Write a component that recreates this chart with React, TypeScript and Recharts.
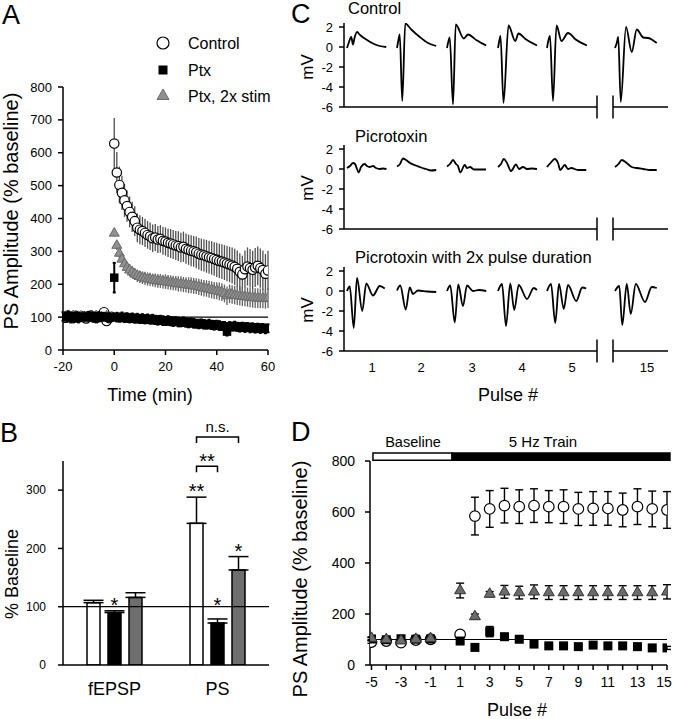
import React from 'react';
import {
  ScatterChart, Scatter, LineChart, Line, BarChart, Bar, XAxis, YAxis,
  ErrorBar, ReferenceLine, ReferenceArea, LabelList,
} from 'recharts';

const FONT = '"Liberation Sans", Arial, Helvetica, sans-serif';
const AXIS = { stroke: '#000', strokeWidth: 1.5 };

// ---------- Panel A: PS amplitude vs time ----------
const timeA = [-20,-19,-18,-17,-16,-15,-14,-13,-12,-11,-10,-9,-8,-7,-6,-5,-4,-3,-2,-1,0,1,2,3,4,5,6,7,8,9,10,11,12,13,14,15,16,17,18,19,20,21,22,23,24,25,26,27,28,29,30,31,32,33,34,35,36,37,38,39,40,41,42,43,44,45,46,47,48,49,50,51,52,53,54,55,56,57,58,59,60];
const controlA = [100,98,103,101,97,104,99,102,100,96,103,101,99,98,102,104,115,88,97,101,
  628,540,502,478,455,438,420,405,392,372,366,362,356,350,346,340,342,336,338,332,330,326,324,321,318,316,312,314,308,305,302,300,297,293,290,288,285,282,280,277,274,271,269,266,263,260,257,253,247,238,230,246,254,249,244,251,256,249,243,232,242];
const controlAErr = [6,5,7,6,5,6,7,5,6,6,5,7,6,5,6,7,8,7,6,5,
  78,62,56,52,50,48,47,46,45,44,44,43,43,42,42,42,41,41,42,42,43,43,44,44,44,45,45,46,46,46,47,47,48,48,49,49,50,50,51,51,52,52,53,53,54,54,55,55,56,56,57,57,58,58,58,59,59,60,60,60,60];
const ptxA = [102,99,104,97,101,103,98,100,102,99,101,104,100,97,103,101,99,102,98,100,
  220,100,98,101,97,99,96,98,95,97,94,96,93,95,92,94,91,90,92,89,88,90,87,86,88,85,84,86,83,82,84,81,80,79,81,78,77,79,76,75,77,74,73,72,56,72,71,73,70,69,71,68,70,67,69,66,68,65,67,64,66];
const ptxAErr = [13,12,14,13,12,13,14,12,13,12,13,14,12,13,12,13,14,12,13,12,
  45,13,12,13,12,13,12,13,12,13,12,13,12,13,12,13,12,13,12,13,12,13,12,13,12,13,12,13,12,13,12,13,12,13,12,13,12,13,12,13,12,13,12,13,12,13,12,13,12,13,12,13,12,13,12,13,12,13,12,13,12];
const ptx2xA = [99,102,97,101,104,98,100,103,99,101,97,102,100,104,98,101,99,103,100,98,
  355,318,294,276,262,251,243,237,231,226,223,220,218,216,215,213,212,210,210,208,208,206,205,204,203,201,201,199,198,197,197,195,194,192,190,188,187,185,183,181,180,178,176,172,165,171,169,167,165,164,163,162,161,160,159,158,158,157,157,156,158];
const ptx2xAErr = [6,5,6,7,5,6,6,5,7,6,5,6,6,7,5,6,6,5,6,6,
  10,14,15,16,17,17,18,18,18,19,19,19,20,20,20,20,21,21,21,21,22,22,22,22,22,23,23,23,23,24,24,24,24,25,25,25,25,26,26,26,26,27,27,27,28,28,28,28,28,29,29,29,29,30,30,30,30,30,30,30,30];
const legendLabels = ['Control', 'Ptx', 'Ptx, 2x stim'];

// ---------- Panel B: % baseline bars ----------
const bCategories = ['fEPSP', 'PS'];
const bControl = [107, 243];
const bControlErr = [4, 45];
const bPtx = [90, 72];
const bPtxErr = [3, 7];
const bPtx2x = [116, 163];
const bPtx2xErr = [8, 23];
const bStarsControl = ['', '**'];
const bStarsPtx = ['*', '*'];
const bStarsPtx2x = ['', '*'];

// ---------- Panel C: example traces, [ms from sweep start, mV] ----------
const traceStarts = [12, 212, 412, 616, 812, 1084];
const pulseTickPos = [112, 308, 512, 712, 912, 1212];
const pulseLabels = ['1', '2', '3', '4', '5', '15'];
const controlTraces = [
  [[0,-0.1],[8,0.5],[17,1.0],[24,0.25],[30,0.9],[40,1.5],[52,1.2],[77,0.75],[104,0.35],[131,0.1],[157,0.0]],
  [[0,-0.1],[5,0.6],[11,1.25],[21,-5.4],[33,2.35],[57,1.75],[91,1.0],[124,0.4],[157,0.1]],
  [[0,-0.1],[5,0.5],[11,0.95],[24,-5.75],[35,2.25],[67,0.85],[84,1.25],[117,0.7],[157,0.15]],
  [[0,-0.1],[5,0.6],[10,1.1],[22,-5.6],[42,2.15],[69,0.6],[82,1.35],[110,0.8],[156,0.15]],
  [[0,-0.1],[5,0.6],[12,1.1],[24,-5.4],[38,2.15],[58,0.6],[84,1.4],[115,0.75],[160,0.15]],
  [[0,-0.1],[7,0.4],[13,1.0],[23,-5.5],[44,2.0],[67,-0.5],[87,1.75],[113,0.95],[133,0.9],[150,0.7],[167,0.4]],
];
const picroTraces = [
  [[0,0.1],[12,0.3],[24,0.6],[32,0.5],[40,0.0],[47,-0.35],[56,0.2],[71,0.5],[80,0.3],[91,0.2],[104,0.3],[116,0.1],[131,0.0],[144,0.05],[158,0.0]],
  [[0,0.25],[12,0.5],[24,1.05],[36,0.9],[52,0.6],[76,0.35],[96,0.15],[116,0.0],[136,-0.15],[157,-0.1]],
  [[0,0.25],[12,0.5],[24,0.9],[36,0.5],[44,0.3],[53,-0.35],[71,0.4],[80,0.1],[92,0.2],[108,-0.05],[128,-0.05],[156,-0.05]],
  [[0,0.2],[12,0.5],[23,1.0],[36,0.6],[52,-0.2],[72,0.45],[84,0.0],[100,0.2],[116,0.0],[136,0.05],[156,0.0]],
  [[0,0.2],[14,0.6],[31,1.0],[44,0.6],[53,-0.1],[71,0.4],[84,0.0],[97,0.1],[124,-0.1],[157,-0.1]],
  [[0,0.2],[14,0.5],[27,0.9],[47,0.6],[67,0.2],[87,0.1],[113,0.0],[140,-0.1],[167,-0.1]],
];
const picro2xTraces = [
  [[0,0.0],[11,0.45],[27,-3.7],[40,1.3],[61,-2.0],[77,0.75],[104,-0.45],[131,0.5],[151,0.25]],
  [[0,0.05],[13,0.55],[35,-1.85],[51,0.35],[64,-0.3],[84,0.05],[120,-0.05],[157,-0.1]],
  [[0,0.0],[13,0.55],[31,-3.15],[45,0.65],[64,-1.5],[80,0.55],[104,0.0],[128,0.1],[157,0.0]],
  [[0,0.0],[16,0.7],[32,-3.5],[49,0.75],[65,-1.9],[83,0.6],[116,-0.8],[143,0.3],[156,0.1]],
  [[0,0.0],[16,0.7],[33,-3.2],[48,0.7],[67,-1.8],[84,0.6],[117,-1.0],[141,0.35],[157,0.25]],
  [[0,0.0],[17,0.5],[29,-3.4],[47,0.7],[63,-2.3],[83,0.7],[120,-1.1],[147,0.4],[167,0.3]],
];

// ---------- Panel D: PS amplitude per pulse ----------
const dPulse = [-5,-4,-3,-2,-1,1,2,3,4,5,6,7,8,9,10,11,12,13,14,15];
const dTicks = [-5,-4,-3,-2,-1,0,1,2,3,4,5,6,7,8,9,10,11,12,13,14,15];
const dControl = [90,94,88,98,101,120,584,612,625,621,625,621,621,612,614,614,608,621,612,608];
const dControlErr = [5,5,5,4,4,6,74,72,68,66,66,63,66,65,66,66,66,70,70,72];
const dPtx = [102,99,103,101,102,94,69,131,111,101,82,75,75,72,78,75,75,72,67,67];
const dPtxErr = [6,5,6,5,5,6,6,20,8,7,6,6,6,6,6,6,6,6,6,6];
const dPtx2x = [105,100,95,101,104,292,190,278,287,284,287,284,284,284,284,284,284,284,284,287];
const dPtx2xErr = [5,5,5,5,5,29,10,10,25,25,27,27,27,27,27,27,27,27,27,28];

// ---------- helpers ----------
const circle = (r: number, fill: string, stroke: string) => (p: any) =>
  <circle cx={p.cx} cy={p.cy} r={r} fill={fill} stroke={stroke} strokeWidth={1.2} />;
const square = (s: number, fill: string) => (p: any) =>
  <rect x={p.cx - s / 2} y={p.cy - s / 2} width={s} height={s} fill={fill} />;
const triangle = (s: number, fill: string, stroke: string) => (p: any) => {
  const h = s * 0.866;
  return (
    <polygon
      points={`${p.cx},${p.cy - (h * 2) / 3} ${p.cx - s / 2},${p.cy + h / 3} ${p.cx + s / 2},${p.cy + h / 3}`}
      fill={fill} stroke={stroke} strokeWidth={1}
    />
  );
};

const pts = (xs: number[], ys: number[], es: number[]) => xs.map((x, i) => ({ x, y: ys[i], e: es[i] }));

const aControl = pts(timeA, controlA, controlAErr);
const aPtx = pts(timeA, ptxA, ptxAErr);
const aPtx2x = pts(timeA, ptx2xA, ptx2xAErr);

const dCtrlPts = pts(dPulse, dControl, dControlErr);
const dPtxPts = pts(dPulse, dPtx, dPtxErr);
const dPtx2xPts = pts(dPulse, dPtx2x, dPtx2xErr);

const bData = bCategories.map((name, i) => ({
  name,
  control: bControl[i], controlErr: [0, bControlErr[i]],
  ptx: bPtx[i], ptxErr: [0, bPtxErr[i]],
  ptx2x: bPtx2x[i], ptx2xErr: [0, bPtx2xErr[i]],
}));

const BAR_SIZE = 13;
const BAR_GAP = 8;

// stars above error bars; brackets drawn from the PS control bar
const starLabel = (vals: number[], errs: number[], stars: string[], lift: number[], withBrackets = false) => (p: any) => {
  const i = p.index;
  const vb = p.viewBox && p.viewBox.width != null ? p.viewBox : p;
  const { x, y, width, height } = vb;
  if (i == null || x == null) return null;
  const k = height / vals[i];
  const bottom = y + height;
  const cx = x + width / 2;
  const errTop = y - errs[i] * k;
  const out: any[] = [];
  if (stars[i]) {
    out.push(
      <text key="s" x={cx} y={errTop + 1 - lift[i]} textAnchor="middle" fontSize={20} fill="#000">{stars[i]}</text>
    );
  }
  if (withBrackets && i === 1) {
    const step = width + BAR_GAP;
    const brackets = [
      { to: 1, level: 341, label: '**', dy: 2, size: 20 },
      { to: 2, level: 391, label: 'n.s.', dy: -5, size: 15 },
    ];
    brackets.forEach((b, j) => {
      const by = bottom - b.level * k;
      const x2 = cx + step * b.to;
      out.push(
        <path key={`b${j}`} d={`M${cx},${by + 6}V${by}H${x2}V${by + 6}`} fill="none" stroke="#000" strokeWidth={1.5} />,
        <text key={`t${j}`} x={(cx + x2) / 2} y={by + b.dy} textAnchor="middle" fontSize={b.size} fill="#000">{b.label}</text>
      );
    });
  }
  return <g>{out}</g>;
};

// D x ticks: odd pulses labelled, last label kept inside the chart
const dTick = (p: any) => {
  const v = p.payload.value;
  const label = v % 2 !== 0 ? String(v) : '';
  return (
    <text x={Math.min(p.x, 374)} y={p.y} dy="0.71em" textAnchor="middle" fontSize={14} fill="#000">{label}</text>
  );
};

function TraceRow({ traces, top, showTicks }: { traces: number[][][]; top: number; showTicks: boolean }) {
  const height = showTicks ? 124 : 112;
  return (
    <div style={{ position: 'absolute', left: 290, top, width: 383, height }}>
      <LineChart width={383} height={height} margin={{ top: 10, right: 5, bottom: showTicks ? 0 : 18, left: 0 }}>
        <XAxis
          type="number" dataKey="t" domain={[0, 1296]} allowDataOverflow hide={!showTicks}
          height={showTicks ? 30 : 0} ticks={pulseTickPos} interval={0}
          tickFormatter={(v: number) => pulseLabels[pulseTickPos.indexOf(v)] ?? ''}
          axisLine={false} tickLine={false} tickSize={0} tickMargin={12}
          tick={{ fill: '#000', fontSize: 13 }}
        />
        <YAxis
          type="number" domain={[-6, 2.4]} allowDataOverflow ticks={[-6, -4, -2, 0, 2]} interval={0}
          width={54} axisLine={AXIS} tickLine={AXIS} tickSize={5} tickMargin={6}
          tick={{ fill: '#000', fontSize: 13 }}
        />
        <ReferenceLine segment={[{ x: 0, y: -6 }, { x: 1012, y: -6 }]} stroke="#000" strokeWidth={1.5} ifOverflow="visible" />
        <ReferenceLine segment={[{ x: 1076, y: -6 }, { x: 1296, y: -6 }]} stroke="#000" strokeWidth={1.5} ifOverflow="visible" />
        <ReferenceLine segment={[{ x: 1012, y: -7.15 }, { x: 1012, y: -4.85 }]} stroke="#000" strokeWidth={1.5} ifOverflow="visible" />
        <ReferenceLine segment={[{ x: 1076, y: -7.15 }, { x: 1076, y: -4.85 }]} stroke="#000" strokeWidth={1.5} ifOverflow="visible" />
        {traces.map((tr, k) => (
          <Line
            key={k}
            data={tr.map(([t, v]) => ({ t: traceStarts[k] + t, v }))}
            dataKey="v" type="monotone" dot={false} stroke="#000" strokeWidth={1.8}
            isAnimationActive={false}
          />
        ))}
      </LineChart>
    </div>
  );
}

function Overlay() {
  const legendY = [43, 70, 96];
  const legendSymbols = [circle(6, '#fff', '#000'), square(9, '#000'), triangle(12, '#8f8f8f', '#6a6a6a')];
  return (
    <svg width={673} height={719} style={{ position: 'absolute', left: 0, top: 0, pointerEvents: 'none', fontFamily: FONT }}>
      <g fill="#000">
        <text x={2} y={24} fontSize={27}>A</text>
        <text x={0} y={442} fontSize={27}>B</text>
        <text x={291} y={23} fontSize={27}>C</text>
        <text x={291} y={441} fontSize={27}>D</text>

        <text transform="translate(18,211) rotate(-90)" textAnchor="middle" fontSize={20}>PS Amplitude (% baseline)</text>
        <text x={150} y={401} textAnchor="middle" fontSize={18}>Time (min)</text>
        <text transform="translate(18,574) rotate(-90)" textAnchor="middle" fontSize={18}>% Baseline</text>
        <text transform="translate(307,579) rotate(-90)" textAnchor="middle" fontSize={20}>PS Amplitude (% baseline)</text>

        <text transform="translate(313,67) rotate(-90)" textAnchor="middle" fontSize={17}>mV</text>
        <text transform="translate(313,188) rotate(-90)" textAnchor="middle" fontSize={17}>mV</text>
        <text transform="translate(313,310) rotate(-90)" textAnchor="middle" fontSize={17}>mV</text>
        <text x={348} y={14} fontSize={16.5}>Control</text>
        <text x={355} y={141.5} fontSize={16.5}>Picrotoxin</text>
        <text x={355} y={263} fontSize={16.5}>Picrotoxin with 2x pulse duration</text>
        <text x={508} y={401} textAnchor="middle" fontSize={18}>Pulse #</text>

        <text x={413} y={447} textAnchor="middle" fontSize={14.5}>Baseline</text>
        <text x={543} y={447} textAnchor="middle" fontSize={15}>5 Hz Train</text>
        <text x={517} y={716} textAnchor="middle" fontSize={18}>Pulse #</text>

        {legendLabels.map((l, i) => (
          <g key={l}>
            {legendSymbols[i]({ cx: 163, cy: legendY[i] })}
            <text x={188} y={legendY[i] + 5.5} fontSize={16}>{l}</text>
          </g>
        ))}
      </g>
    </svg>
  );
}

export default function App() {
  return (
    <div style={{ position: 'absolute', left: 0, top: 0, width: 673, height: 719, background: '#fff', fontFamily: FONT }}>
      {/* A */}
      <div style={{ position: 'absolute', left: 0, top: 0 }}>
        <ScatterChart width={290} height={400} margin={{ top: 87, right: 22, bottom: 0, left: 0 }}>
          <XAxis
            type="number" dataKey="x" domain={[-20, 60]} allowDataOverflow ticks={[-20, 0, 20, 40, 60]} interval={0}
            height={50} axisLine={AXIS} tickLine={AXIS} tickSize={5} tickMargin={7}
            tick={{ fill: '#000', fontSize: 13 }}
          />
          <YAxis
            type="number" dataKey="y" domain={[0, 800]} allowDataOverflow
            ticks={[0, 100, 200, 300, 400, 500, 600, 700, 800]} interval={0}
            width={63} axisLine={AXIS} tickLine={AXIS} tickSize={5} tickMargin={6}
            tick={{ fill: '#000', fontSize: 13 }}
          />
          <ReferenceLine y={100} stroke="#000" strokeWidth={1.2} />
          <Scatter data={aControl} shape={circle(4.7, '#fff', '#000')} isAnimationActive={false}>
            <ErrorBar dataKey="e" direction="y" width={0} stroke="#505050" strokeWidth={1.3} />
          </Scatter>
          <Scatter data={aPtx2x} shape={triangle(10, '#8f8f8f', '#6a6a6a')} isAnimationActive={false}>
            <ErrorBar dataKey="e" direction="y" width={0} stroke="#606060" strokeWidth={1.3} />
          </Scatter>
          <Scatter data={aPtx} shape={square(8.5, '#000')} isAnimationActive={false}>
            <ErrorBar dataKey="e" direction="y" width={1.5} stroke="#000" strokeWidth={2} />
          </Scatter>
        </ScatterChart>
      </div>

      {/* B */}
      <div style={{ position: 'absolute', left: 0, top: 380 }}>
        <BarChart width={290} height={339} data={bData} margin={{ top: 81, right: 21, bottom: 24, left: 0 }} barSize={BAR_SIZE} barGap={BAR_GAP}>
          <XAxis
            dataKey="name" height={30} axisLine={AXIS} tickLine={false} tickSize={0} tickMargin={17} interval={0}
            tick={{ fill: '#000', fontSize: 18 }}
          />
          <YAxis
            type="number" domain={[0, 350]} allowDataOverflow ticks={[0, 100, 200, 300]} interval={0}
            width={63} axisLine={AXIS} tickLine={AXIS} tickSize={5} tickMargin={12}
            tick={{ fill: '#000', fontSize: 12 }}
          />
          <ReferenceLine y={100} stroke="#000" strokeWidth={1.2} />
          <Bar dataKey="control" fill="#fff" stroke="#000" strokeWidth={1.5} isAnimationActive={false}>
            <ErrorBar dataKey="controlErr" width={10} stroke="#000" strokeWidth={1.5} />
            <LabelList dataKey="control" content={starLabel(bControl, bControlErr, bStarsControl, [0, 0], true)} />
          </Bar>
          <Bar dataKey="ptx" fill="#000" stroke="#000" strokeWidth={1.5} isAnimationActive={false}>
            <ErrorBar dataKey="ptxErr" width={10} stroke="#000" strokeWidth={1.5} />
            <LabelList dataKey="ptx" content={starLabel(bPtx, bPtxErr, bStarsPtx, [0, 8])} />
          </Bar>
          <Bar dataKey="ptx2x" fill="#6e6e6e" stroke="#000" strokeWidth={1.5} isAnimationActive={false}>
            <ErrorBar dataKey="ptx2xErr" width={10} stroke="#000" strokeWidth={1.5} />
            <LabelList dataKey="ptx2x" content={starLabel(bPtx2x, bPtx2xErr, bStarsPtx2x, [0, 0])} />
          </Bar>
        </BarChart>
      </div>

      {/* C */}
      <TraceRow traces={controlTraces} top={13} showTicks={false} />
      <TraceRow traces={picroTraces} top={135} showTicks={false} />
      <TraceRow traces={picro2xTraces} top={257} showTicks={true} />

      {/* D */}
      <div style={{ position: 'absolute', left: 290, top: 380 }}>
        <ScatterChart width={383} height={339} margin={{ top: 81, right: 6, bottom: 24, left: 0 }}>
          <XAxis
            type="number" dataKey="x" domain={[-5.1, 15]} allowDataOverflow ticks={dTicks} interval={0}
            height={30} axisLine={AXIS} tickLine={AXIS} tickSize={5} tickMargin={7}
            tick={dTick}
          />
          <YAxis
            type="number" dataKey="y" domain={[0, 800]} allowDataOverflow ticks={[0, 200, 400, 600, 800]} interval={0}
            width={80} axisLine={AXIS} tickLine={AXIS} tickSize={5} tickMargin={10}
            tick={{ fill: '#000', fontSize: 14 }}
          />
          <ReferenceArea x1={-4.9} x2={0.45} y1={803} y2={831} fill="#fff" fillOpacity={1} stroke="#000" strokeWidth={1.5} ifOverflow="visible" />
          <ReferenceArea x1={0.45} x2={15.2} y1={803} y2={831} fill="#000" fillOpacity={1} stroke="#000" strokeWidth={1.5} ifOverflow="visible" />
          <ReferenceLine segment={[{ x: -5, y: 100 }, { x: 15, y: 100 }]} stroke="#000" strokeWidth={1.2} />
          <Scatter data={dCtrlPts} shape={circle(5.3, '#fff', '#000')} isAnimationActive={false}>
            <ErrorBar dataKey="e" direction="y" width={4} stroke="#000" strokeWidth={1.4} />
          </Scatter>
          <Scatter data={dPtxPts} shape={square(9, '#000')} isAnimationActive={false}>
            <ErrorBar dataKey="e" direction="y" width={4} stroke="#000" strokeWidth={1.4} />
          </Scatter>
          <Scatter data={dPtx2xPts} shape={triangle(11, '#6b6b6b', '#333')} isAnimationActive={false}>
            <ErrorBar dataKey="e" direction="y" width={4} stroke="#000" strokeWidth={1.4} />
          </Scatter>
        </ScatterChart>
      </div>

      <Overlay />
    </div>
  );
}
